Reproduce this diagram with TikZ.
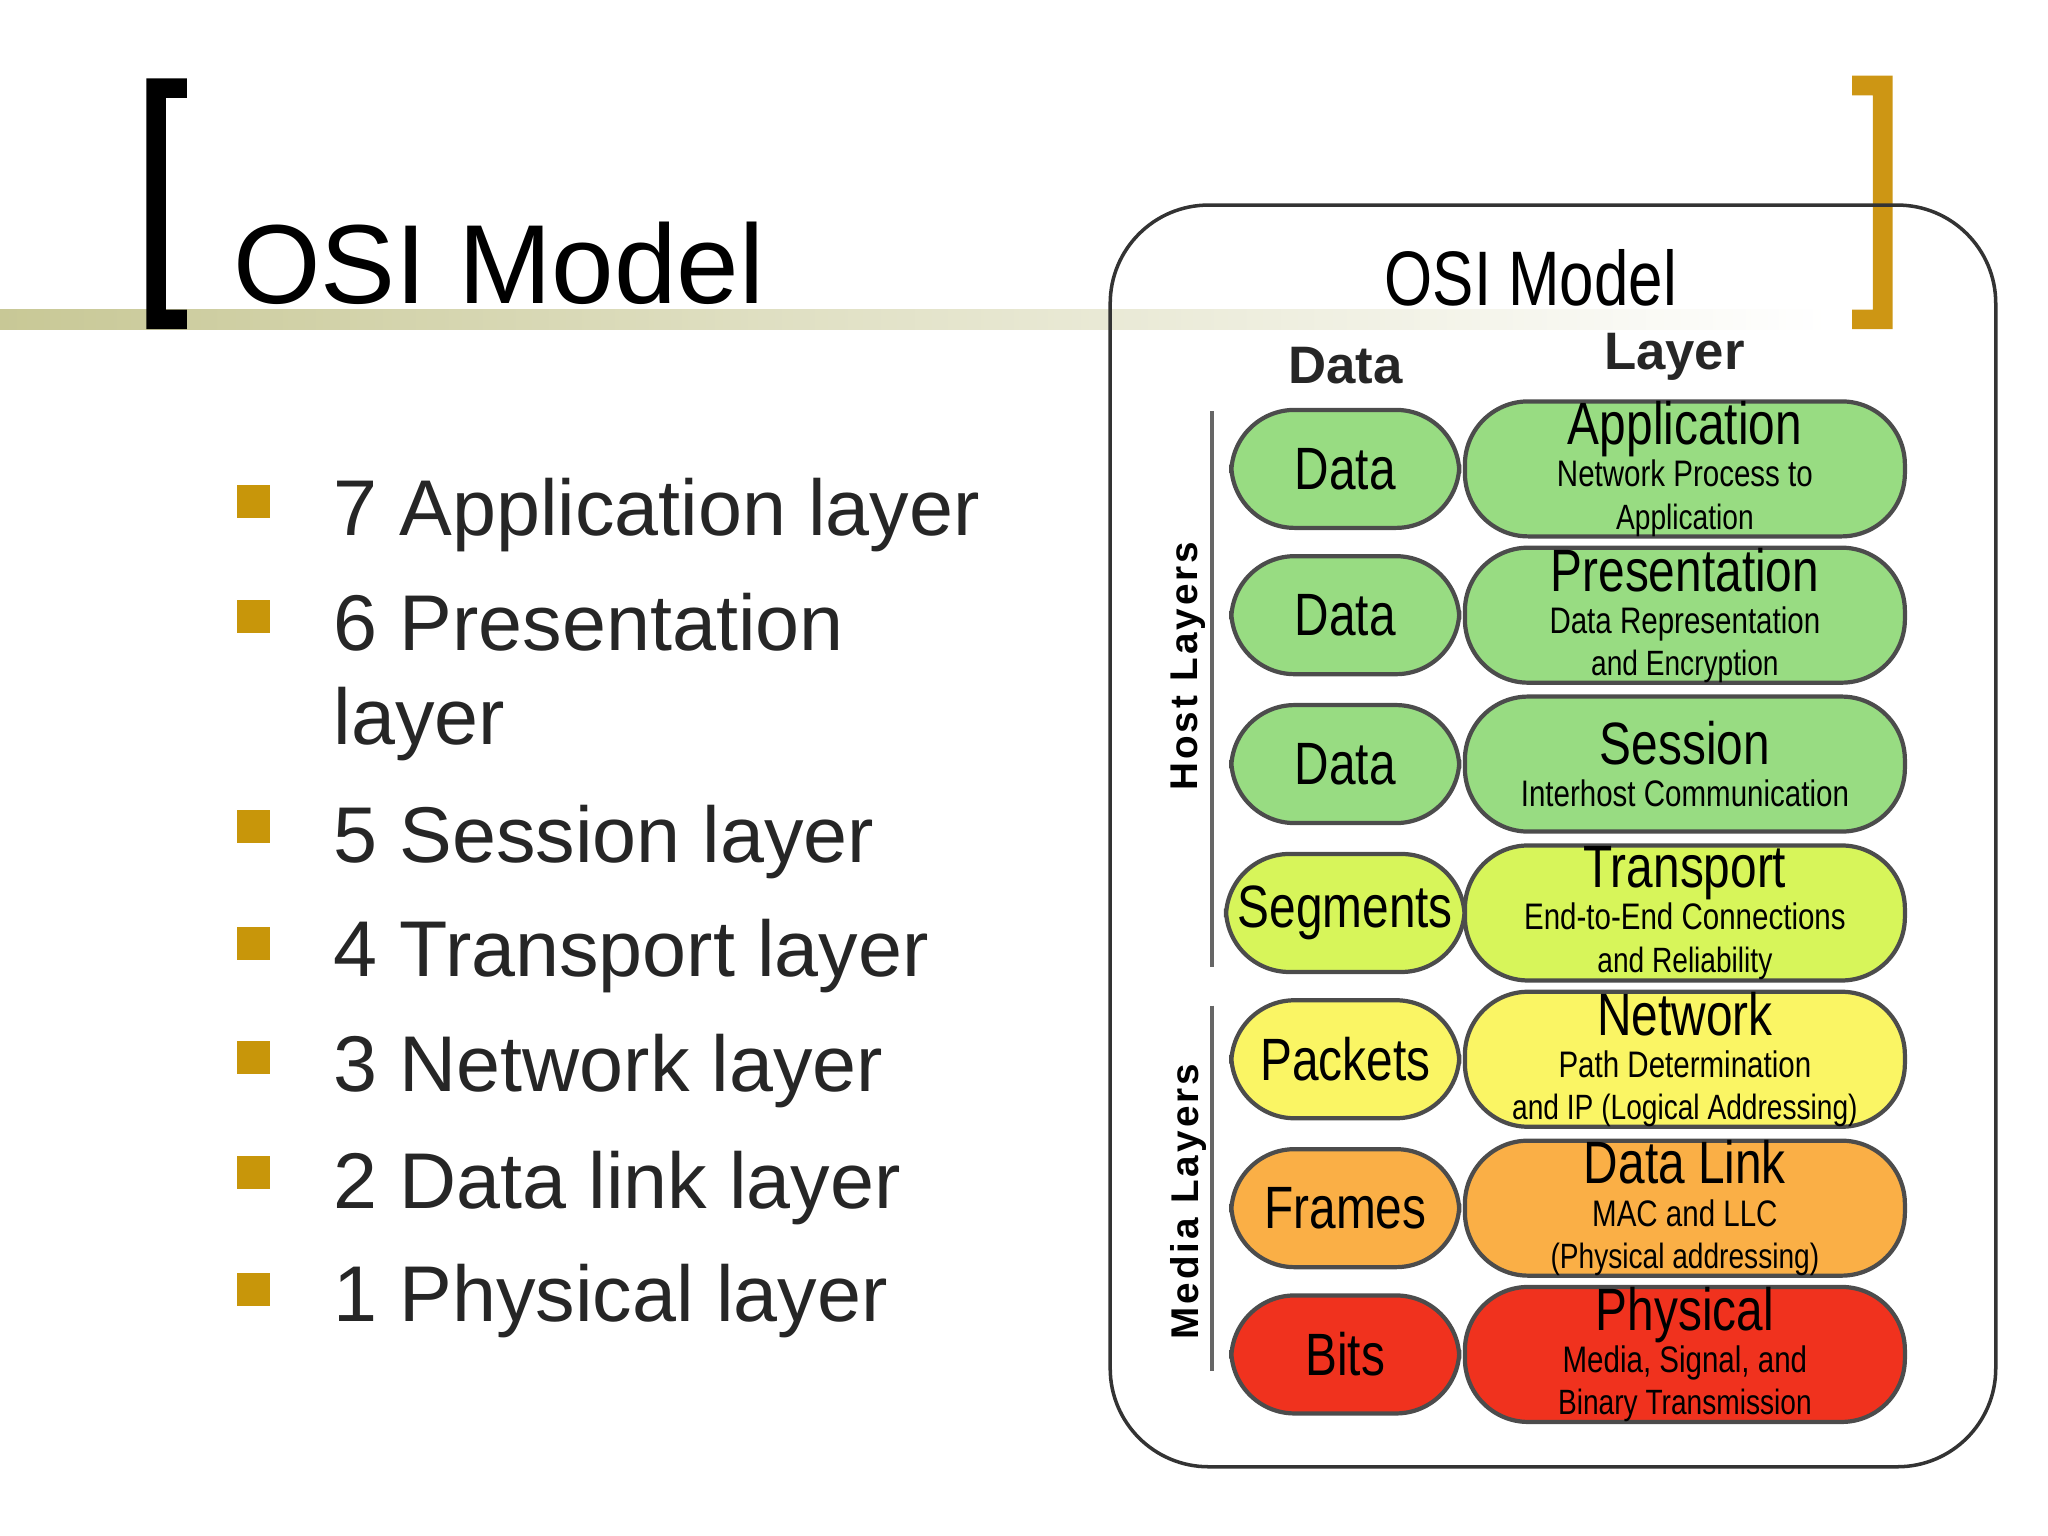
\documentclass[tikz,border=0pt]{standalone}
\usepackage{fontspec}
\setmainfont{Liberation Sans}
\newfontfamily\cond[FakeStretch=0.8]{Liberation Sans}
\newcommand\osirow[6]{%
 \node[blk,fill=#2,minimum width=2.28cm,minimum height=1.18cm,font=\cond\fontsize{17}{18}\selectfont] (d#6) at (1030,#1) {#3};
 \node[blk,fill=#2,minimum width=4.4cm,minimum height=1.35cm,inner sep=0pt,font=\cond] (l#6) at (1290,#1)
   {\fontsize{17}{14}\selectfont #4\\\fontsize{10.5}{9.6}\selectfont #5};}
\begin{document}
\begin{tikzpicture}[x=0.01306cm,y=-0.01306cm,
  blk/.style={draw=black!70,line width=1.2pt,rounded corners=18pt,align=center},
  bul/.style={fill=bulgold,minimum size=0.33cm,inner sep=0pt},
  itm/.style={anchor=base west,inner sep=0pt,font=\fontsize{22.5}{28}\selectfont,text=black!85}]
\definecolor{bulgold}{RGB}{200,150,10}
\definecolor{brgold}{RGB}{205,150,20}
\definecolor{cg}{RGB}{152,220,130}
\definecolor{cy}{RGB}{215,245,90}
\definecolor{cyy}{RGB}{250,245,100}
\definecolor{co}{RGB}{250,175,70}
\definecolor{cr}{RGB}{240,50,30}
\useasboundingbox (0,0) rectangle (1568,1176);
\fill[left color={rgb,255:red,200;green,200;blue,150},right color=white] (0,237) rectangle (1400,252);
\fill[black] (112,60) rectangle (127,252) (112,60) rectangle (143,75) (112,237) rectangle (143,252);
\fill[brgold] (1434,58) rectangle (1449,252) (1418,58) rectangle (1449,73) (1418,237) rectangle (1449,252);
\node[anchor=base west,inner sep=0pt,font=\fontsize{32}{36}\selectfont] (title) at (178,232) {OSI Model};
\node[bul] (b1) at (194,384) {};
\node[bul] (b2) at (194,472) {};
\node[bul] (b3) at (194,633) {};
\node[bul] (b4) at (194,722) {};
\node[bul] (b5) at (194,810) {};
\node[bul] (b6) at (194,898) {};
\node[bul] (b7) at (194,987) {};
\node[itm] (t1) at (255,410) {7 Application layer};
\node[itm] (t2) at (255,498) {6 Presentation};
\node[itm] (t2b) at (255,570) {layer};
\node[itm] (t3) at (255,660) {5 Session layer};
\node[itm] (t4) at (255,748) {4 Transport layer};
\node[itm] (t5) at (255,836) {3 Network layer};
\node[itm] (t6) at (255,925) {2 Data link layer};
\node[itm] (t7) at (255,1012) {1 Physical layer};
\draw[black!80,line width=1pt,rounded corners=28pt] (850,157) rectangle (1528,1123);
\node[font=\cond\fontsize{22}{24}\selectfont] (ot) at (1172,213) {OSI Model};
\node[font=\bfseries\fontsize{15}{17}\selectfont,text=black!85] (hd) at (1030,280) {Data};
\node[font=\bfseries\fontsize{15}{17}\selectfont,text=black!85] (hl) at (1282,273) {Layer};
\draw[black!60,line width=1.2pt] (928,315) -- (928,740);
\draw[black!60,line width=1.2pt] (928,770) -- (928,1050);
\node[rotate=90,font=\bfseries\fontsize{11}{13}\selectfont\addfontfeatures{LetterSpace=8}] (hlab) at (910,510) {Host Layers};
\node[rotate=90,font=\bfseries\fontsize{11}{13}\selectfont\addfontfeatures{LetterSpace=8}] (mlab) at (910,920) {Media Layers};
\osirow{359}{cg}{Data}{Application}{Network Process to\\Application}{1}
\osirow{471}{cg}{Data}{Presentation}{Data Representation\\and Encryption}{2}
\osirow{585}{cg}{Data}{Session}{Interhost Communication}{3}
\osirow{699}{cy}{Segments}{Transport}{End-to-End Connections\\and Reliability}{4}
\osirow{811}{cyy}{Packets}{Network}{Path Determination\\and IP (Logical Addressing)}{5}
\osirow{925}{co}{Frames}{Data Link}{MAC and LLC\\(Physical addressing)}{6}
\osirow{1037}{cr}{Bits}{Physical}{Media, Signal, and\\Binary Transmission}{7}
\end{tikzpicture}
\end{document}
